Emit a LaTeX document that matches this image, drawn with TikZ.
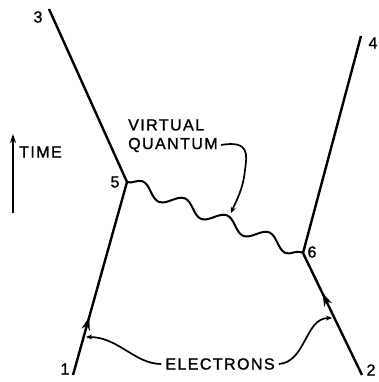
\documentclass[tikz,border=0pt]{standalone}
\usepackage{fontspec}
\setmainfont{Liberation Sans}[FakeBold=1.3]
\usetikzlibrary{decorations.pathmorphing,decorations.markings,arrows.meta}
\tikzset{
  world/.style={line width=2.4pt},
  wave/.style={line width=2pt, decorate, decoration={snake, amplitude=6.5pt, segment length=45.5pt}},
  callout/.style={line width=1.7pt, -{Stealth[length=6pt,width=5pt]}},
  lbl/.style={inner sep=0pt, font=\fontsize{16}{18}\selectfont\addfontfeature{LetterSpace=9}},
  num/.style={inner sep=0pt, font=\fontsize{16}{18}\selectfont},
  midarrow/.style={postaction={decorate}, decoration={markings, mark=at position #1 with {\arrow{Stealth[length=13pt,width=8.5pt]}}}}
}
\begin{document}
\begin{tikzpicture}[x=1pt,y=-1pt]
\useasboundingbox (0,0) rectangle (378,382);
% world-line points
\coordinate (p1) at (73,375);
\coordinate (p2) at (362,375);
\coordinate (p3) at (49,9);
\coordinate (p4) at (361,36);
\coordinate (v5) at (127,182);
\coordinate (v6) at (303,253);
% callout targets
\coordinate (a1) at (86,337);
\coordinate (a2) at (332,318);
\coordinate (wq) at (231,213);
% time arrow ends
\coordinate (t0) at (13,213);
\coordinate (t1) at (13,134);
% world lines
\draw[world, midarrow=0.30] (p1) -- (v5);
\draw[world] (v5) -- (p3);
\draw[world, midarrow=0.67] (p2) -- (v6);
\draw[world] (v6) -- (p4);
% virtual quantum
\draw[wave] (v5) -- (v6);
% labels
\node[num] (n3) at (38,17) {3};
\node[num] (n4) at (373,43) {4};
\node[num] (n5) at (115,182) {5};
\node[num] (n6) at (312,252) {6};
\node[num] (n1) at (65,369) {1};
\node[num] (n2) at (371,370) {2};
\node[lbl, anchor=west] (vi) at (128,125) {VIRTUAL};
\node[lbl, anchor=west] (qu) at (128,145) {QUANTUM};
\node[lbl] (el) at (220,364) {ELECTRONS};
\node[lbl, anchor=west] (ti) at (19,152) {TIME};
% time arrow
\draw[line width=2.2pt, -{Stealth[length=9pt,width=6pt]}] (t0) -- (t1);
% callouts
\draw[callout] ([xshift=-4pt]el.west) .. controls (135,364) and (118,337) .. (a1);
\draw[callout] ([xshift=4pt]el.east) .. controls (306,362) and (305,318) .. (a2);
\draw[callout] ([xshift=3pt]qu.east) .. controls (250,140) and (247,155) .. (245,170) .. controls (243,190) and (236,201) .. (wq);
\end{tikzpicture}
\end{document}
